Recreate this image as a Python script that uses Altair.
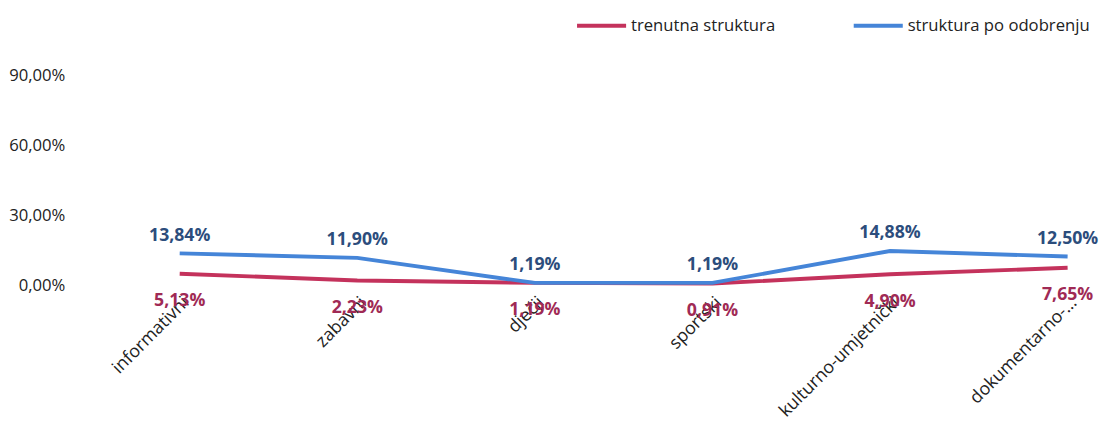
import altair as alt
import pandas as pd

categories = ["informativni", "zabavni", "dječji", "sportski", "kulturno-umjetnički", "dokumentarno-…"]
trenutna = [0.0513, 0.0223, 0.0119, 0.0091, 0.0490, 0.0765]
po_odobrenju = [0.1384, 0.1190, 0.0119, 0.0119, 0.1488, 0.1250]
series_names = ["trenutna struktura", "struktura po odobrenju"]

rows = []
for i, c in enumerate(categories):
    rows.append({"kat": c, "serija": series_names[0], "v": trenutna[i],
                 "lbl": f"{trenutna[i]*100:.2f}%".replace(".", ",")})
    rows.append({"kat": c, "serija": series_names[1], "v": po_odobrenju[i],
                 "lbl": f"{po_odobrenju[i]*100:.2f}%".replace(".", ",")})
df = pd.DataFrame(rows)

FONT = "Open Sans"
line_colors = ["#C4325C", "#4585D8"]
label_colors = ["#A02A55", "#2C4D7C"]

xscale = alt.Scale(type="point", range=[107, 1012], padding=0)
x = alt.X("kat:N", sort=categories, title=None, scale=xscale,
          axis=alt.Axis(labelAngle=-45, labelFontSize=18, labelFont=FONT, labelColor="#222222",
                        domain=False, ticks=False, labelPadding=8, labelLimit=250, grid=False))
y = alt.Y("v:Q", title=None,
          scale=alt.Scale(domain=[0, 0.9], nice=False),
          axis=alt.Axis(values=[0, 0.3, 0.6, 0.9], format=".2%", labelFontSize=17, labelFont=FONT,
                        labelColor="#222222", domain=False, ticks=False, grid=False, labelPadding=10))

color = alt.Color("serija:N", sort=series_names,
                  scale=alt.Scale(domain=series_names, range=line_colors),
                  legend=alt.Legend(title=None, orient="none", direction="horizontal",
                                    legendX=510, legendY=-78, symbolType="stroke",
                                    symbolSize=2500, symbolStrokeWidth=4, labelFontSize=17,
                                    labelFont=FONT, labelColor="#222222", columnPadding=71,
                                    labelOffset=3, labelLimit=300))

lines = alt.Chart(df).mark_line(strokeWidth=4).encode(x=x, y=y, color=color, order=alt.Order("serija:N"))

lbl_red = alt.Chart(df[df.serija == series_names[0]]).mark_text(
    dy=28, fontSize=18, fontWeight="bold", font=FONT, color=label_colors[0]
).encode(x=x, y=y, text="lbl:N")

lbl_blue = alt.Chart(df[df.serija == series_names[1]]).mark_text(
    dy=-18, fontSize=18, fontWeight="bold", font=FONT, color=label_colors[1]
).encode(x=x, y=y, text="lbl:N")

chart = alt.layer(lines, lbl_red, lbl_blue).properties(
    width=1012, height=214, padding={"left": 0, "top": -13, "right": 0, "bottom": 0}
).configure(
    locale={"number": {"decimal": ",", "thousands": ".", "grouping": [3], "currency": ["", " €"]}}
).configure_view(stroke=None).configure_axis(grid=False)

chart.save("out.html", embed_options={"renderer": "svg", "actions": False})
